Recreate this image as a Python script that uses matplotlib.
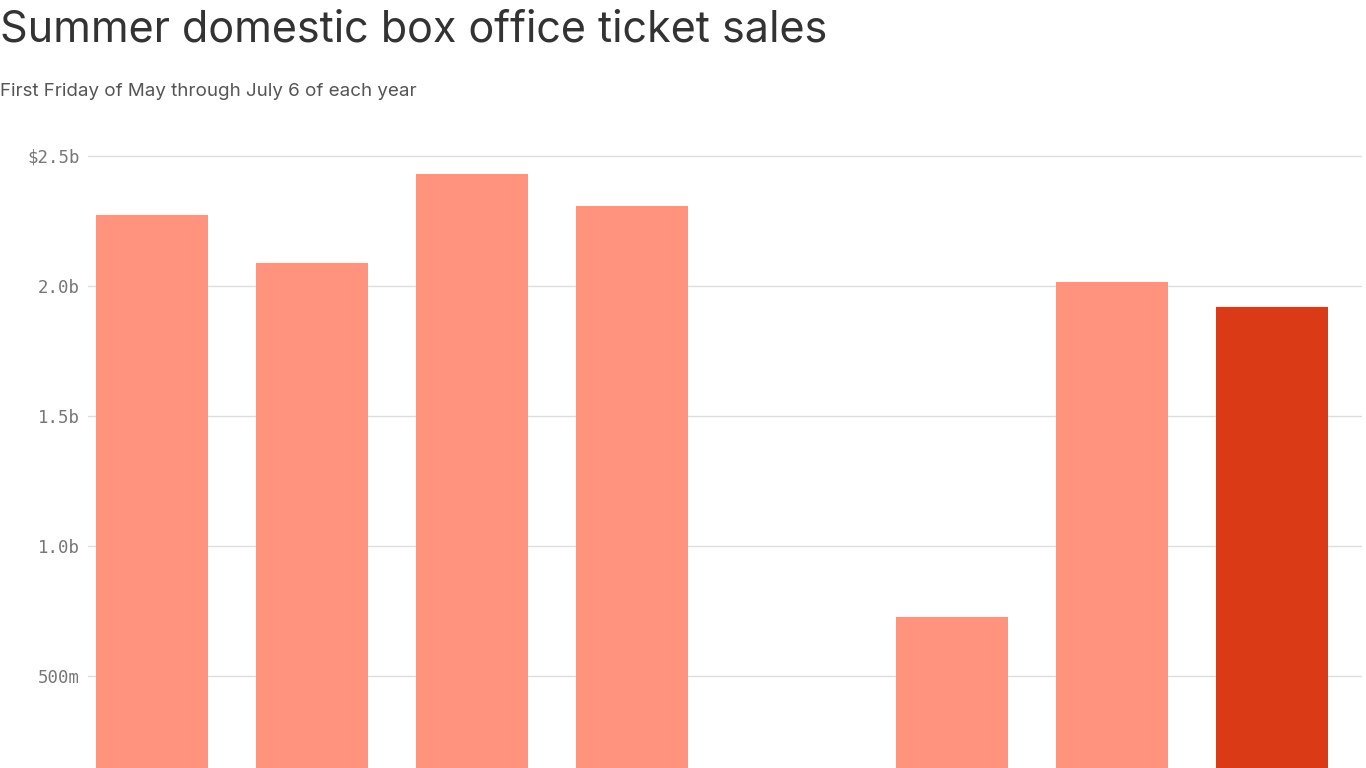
import matplotlib
matplotlib.use("Agg")
import matplotlib.pyplot as plt

years = ["2016", "2017", "2018", "2019", "2020", "2021", "2022", "2023"]
sales_b = [2.273, 2.088, 2.431, 2.308, 0.0, 0.727, 2.015, 1.919]
highlight = "2023"
tick_vals = [0.5, 1.0, 1.5, 2.0, 2.5]
tick_labels = ["500m", "1.0b", "1.5b", "2.0b", "$2.5b"]

W, H = 1366, 768
fig = plt.figure(figsize=(W/100, H/100), dpi=100)
ax = fig.add_axes([88/W, 0, (1362-88)/W, (768-150)/H])
colors = ["#da3a16" if y == highlight else "#ff937d" for y in years]
x = list(range(len(years)))
ax.bar(x, sales_b, width=0.7, color=colors, zorder=2)
ax.set_xlim(-0.4, 7.5625)
ax.set_ylim(0.146, 2.523)
ax.set_yticks(tick_vals)
ax.set_yticklabels(tick_labels, family="DejaVu Sans Mono", fontsize=12.5, color="#777777")
ax.yaxis.grid(True, color="#dddddd", lw=1, zorder=0)
ax.tick_params(axis="y", length=0, pad=6)
ax.set_xticks([])
for s in ax.spines.values():
    s.set_visible(False)

fig.text(0, 1-30/H, "Summer domestic box office ticket sales", fontsize=31, color="#333333",
         va="center", ha="left", family="Inter")
fig.text(0, 1-91/H, "First Friday of May through July 6 of each year", fontsize=13.5, color="#555555",
         va="center", ha="left", family="Inter")
fig.savefig("out.png", dpi=100)
